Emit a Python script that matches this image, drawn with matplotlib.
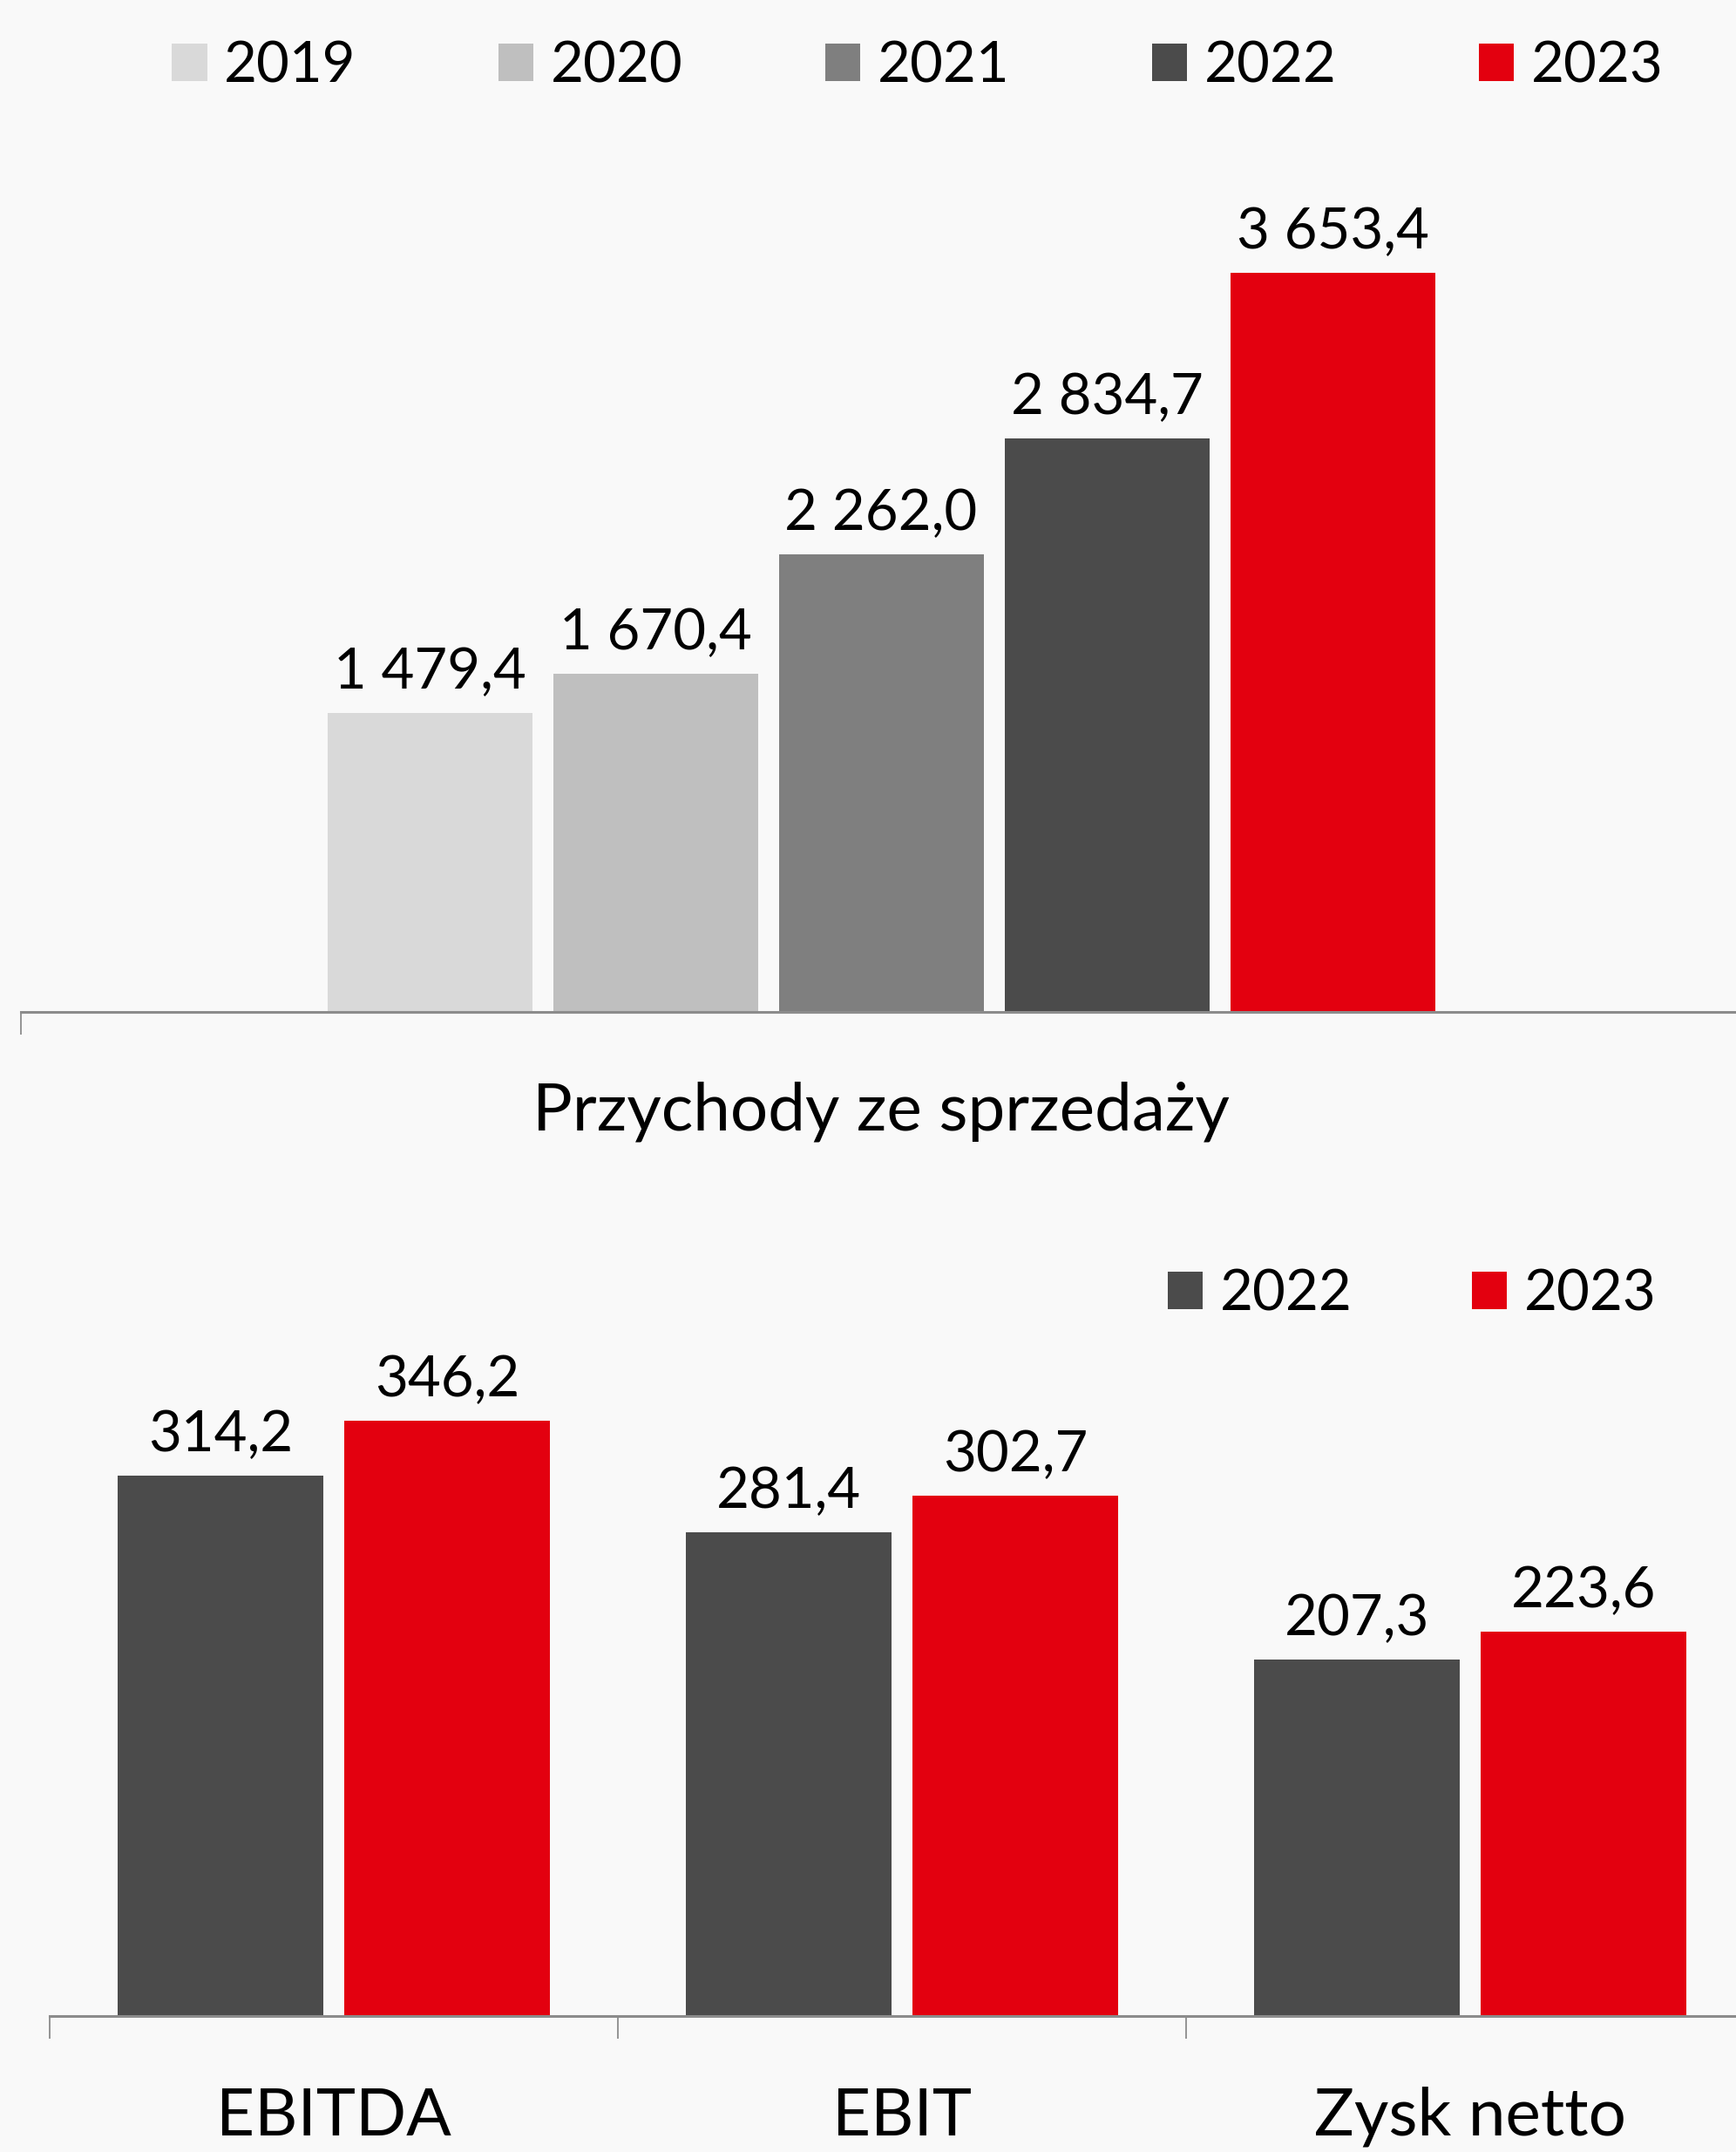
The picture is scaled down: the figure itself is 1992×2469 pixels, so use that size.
import matplotlib
matplotlib.use("Agg")
import matplotlib.pyplot as plt
from matplotlib.patches import Patch

plt.rcParams['font.family'] = ['Lato', 'DejaVu Sans']

# ---- data ----
years_top = ["2019", "2020", "2021", "2022", "2023"]
revenue = [1479.4, 1670.4, 2262.0, 2834.7, 3653.4]
top_category = "Przychody ze sprzedaży"

years_bottom = ["2022", "2023"]
bottom_categories = ["EBITDA", "EBIT", "Zysk netto"]
values_2022 = [314.2, 281.4, 207.3]
values_2023 = [346.2, 302.7, 223.6]

colors_top = ["#d9d9d9", "#bfbfbf", "#7f7f7f", "#4b4b4b", "#e3000f"]
colors_bottom = ["#4b4b4b", "#e3000f"]


def fmt(v):
    s = f"{v:,.1f}"
    return s.replace(",", " ").replace(".", ",")


W, H = 1992, 2469
DPI = 100
fig = plt.figure(figsize=(W / DPI, H / DPI), dpi=DPI)
fig.patch.set_facecolor("#f9f9f9")

FS = 47
CFS = 55
AXCOL = "#8c8c8c"


def style_axes(ax):
    ax.set_facecolor("none")
    for s in ["top", "right", "left"]:
        ax.spines[s].set_visible(False)
    ax.spines["bottom"].set_color(AXCOL)
    ax.spines["bottom"].set_linewidth(2.2)
    ax.set_yticks([])
    ax.tick_params(axis="x", which="major", length=19, width=1.3, color=AXCOL,
                   direction="out", labelbottom=False)


# ---- top chart ----
ax1 = fig.add_axes([24 / W, 1 - 1161 / H, 1974 / W, 4000 * 0.2321 / H])
style_axes(ax1)
ax1.set_xlim(-0.5, 0.5)
ax1.set_ylim(0, 4000)
step = 259 / 1974
bw = 235 / 1974
for i, (y, v, c) in enumerate(zip(years_top, revenue, colors_top)):
    x = (i - 2) * step
    ax1.bar(x, v, width=bw, color=c, label=y)
    ax1.annotate(fmt(v), xy=(x, v), xytext=(0, 20), textcoords="offset points",
                 ha="center", va="baseline", fontsize=FS)
ax1.set_xticks([-0.5])
ax1.annotate(top_category, xy=(0, 0), xycoords=("data", "axes fraction"),
             xytext=(0, -114 * 0.72), textcoords="offset points",
             ha="center", va="center", fontsize=CFS)

handles_top = [Patch(facecolor=c, label=y) for y, c in zip(years_top, colors_top)]
fig.legend(handles=handles_top, loc="center", bbox_to_anchor=(1053 / W, 1 - 76 / H),
           ncol=5, frameon=False, fontsize=FS, handlelength=0.62, handleheight=0.62,
           handletextpad=0.3, columnspacing=2.5, borderpad=0, borderaxespad=0)

# ---- bottom chart ----
ax2 = fig.add_axes([57 / W, 1 - 2313 / H, 1956 / W, 400 * 1.973 / H])
style_axes(ax2)
ax2.set_xlim(-0.5, 2.5)
ax2.set_ylim(0, 400)
bw2 = 236 / 652
off = 130 / 652
for j, (vals, c, y) in enumerate(zip([values_2022, values_2023], colors_bottom, years_bottom)):
    for i, v in enumerate(vals):
        x = i + (-off if j == 0 else off)
        ax2.bar(x, v, width=bw2, color=c)
        ax2.annotate(fmt(v), xy=(x, v), xytext=(0, 20), textcoords="offset points",
                     ha="center", va="baseline", fontsize=FS)
ax2.set_xticks([-0.5, 0.5, 1.5, 2.5])
for i, cat in enumerate(bottom_categories):
    ax2.annotate(cat, xy=(i, 0), xycoords=("data", "axes fraction"),
                 xytext=(0, -115 * 0.72), textcoords="offset points",
                 ha="center", va="center", fontsize=CFS)

handles_bot = [Patch(facecolor=c, label=y) for y, c in zip(years_bottom, colors_bottom)]
fig.legend(handles=handles_bot, loc="center", bbox_to_anchor=(1620 / W, 1 - 1485 / H),
           ncol=2, frameon=False, fontsize=FS, handlelength=0.62, handleheight=0.62,
           handletextpad=0.3, columnspacing=2.1, borderpad=0, borderaxespad=0)

fig.savefig("out.png", dpi=DPI, facecolor=fig.get_facecolor())
